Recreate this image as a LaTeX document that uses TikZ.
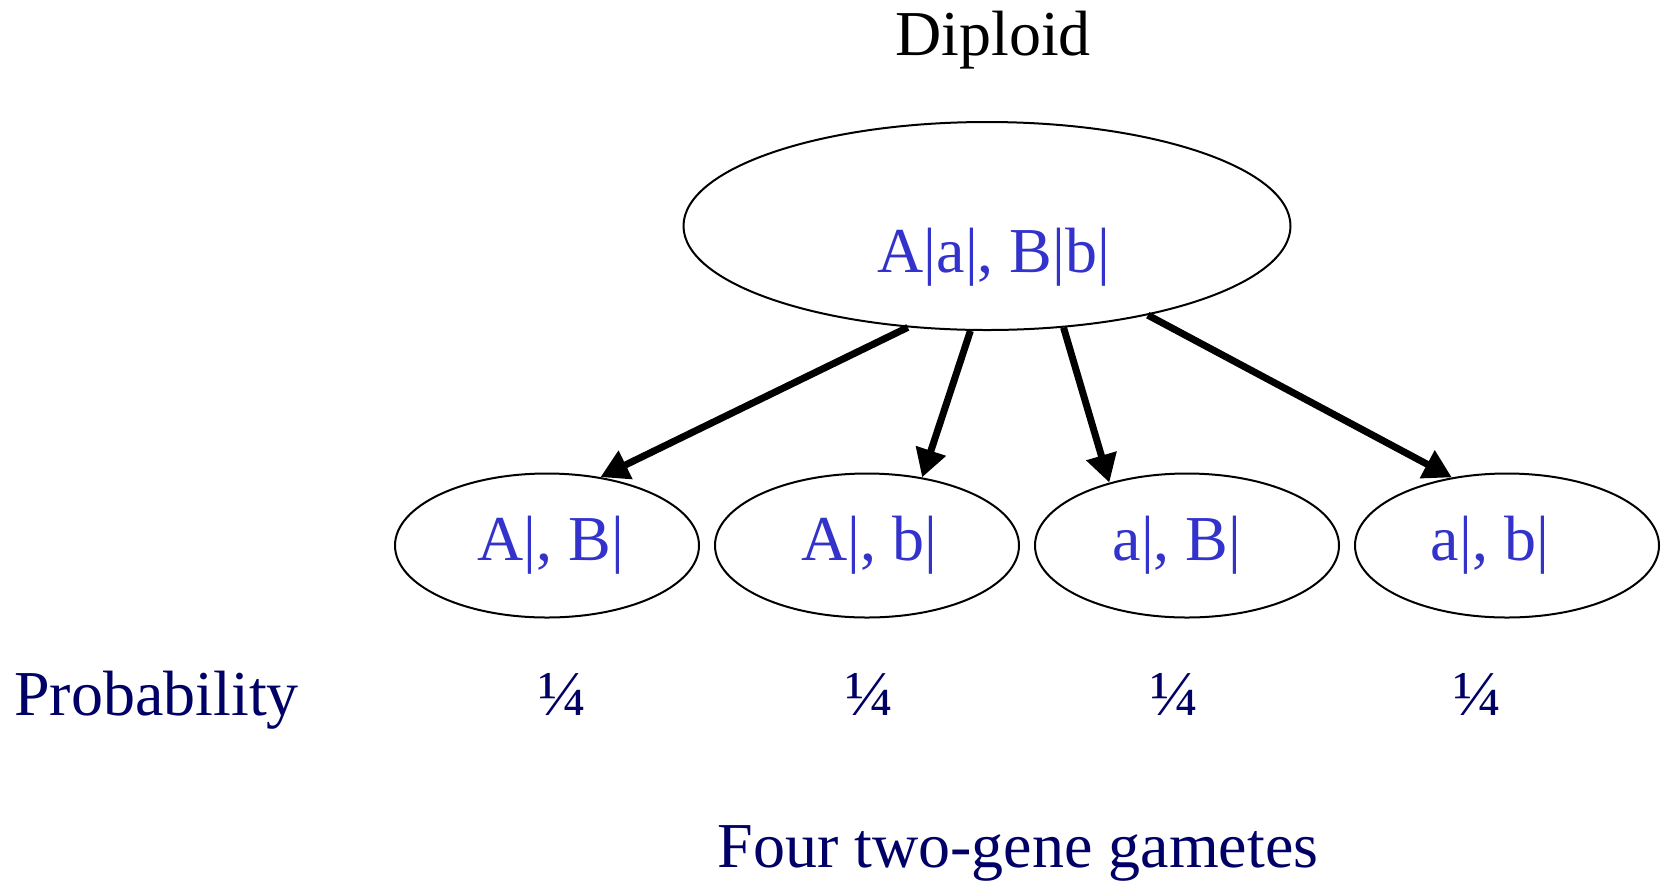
\documentclass[tikz,border=0pt]{standalone}
\usepackage{fontspec}
\setmainfont{Liberation Serif}
\usetikzlibrary{arrows.meta,shapes.geometric}
\definecolor{geneblue}{RGB}{51,51,204}
\definecolor{labelnavy}{RGB}{0,0,102}
\tikzset{
  cell/.style={ellipse, draw=black, line width=1pt, inner sep=0pt},
  big/.style={cell, minimum width=303.5pt, minimum height=104pt},
  gamete/.style={cell, minimum width=152pt, minimum height=72pt},
  txt/.style={anchor=base, inner sep=0pt, font=\fontsize{32}{38}\selectfont},
  gene/.style={txt, text=geneblue},
  lbl/.style={txt, text=labelnavy},
  link/.style={line width=3.5pt, -{Triangle[length=14pt,width=15pt]}}
}
\begin{document}
\begin{tikzpicture}[x=0.5pt,y=-0.5pt]
\useasboundingbox (0,0) rectangle (1661,880);

% title
\node[txt] (title) at (993,55) {Diploid};

% parent cell
\node[big] (parent) at (987,226) {};
\node[gene] (ptext) at (994,272) {A|a|, B|b|};

% gametes
\node[gamete] (g1) at (547,545.5) {};
\node[gamete] (g2) at (867,545.5) {};
\node[gamete] (g3) at (1187,545.5) {};
\node[gamete] (g4) at (1507,545.5) {};
\node[gene] (t1) at (551,560) {A|, B|};
\node[gene] (t2) at (869,560) {A|, b|};
\node[gene] (t3) at (1177,560) {a|, B|};
\node[gene] (t4) at (1490,560) {a|, b|};

% segregation arrows
\draw[link] (parent.232) -- (g1.52);
\draw[link] (parent.261) -- (g2.51);
\draw[link] (parent.307) -- (g3.141);
\draw[link] (parent.331) -- (g4.129);

% probabilities
\node[lbl, anchor=base west] (prob) at (14,715) {Probability};
\node[lbl] (p1) at (562,715) {¼};
\node[lbl] (p2) at (869,715) {¼};
\node[lbl] (p3) at (1174,715) {¼};
\node[lbl] (p4) at (1477,715) {¼};

% caption
\node[lbl] (caption) at (1018,867) {Four two-gene gametes};
\end{tikzpicture}
\end{document}
